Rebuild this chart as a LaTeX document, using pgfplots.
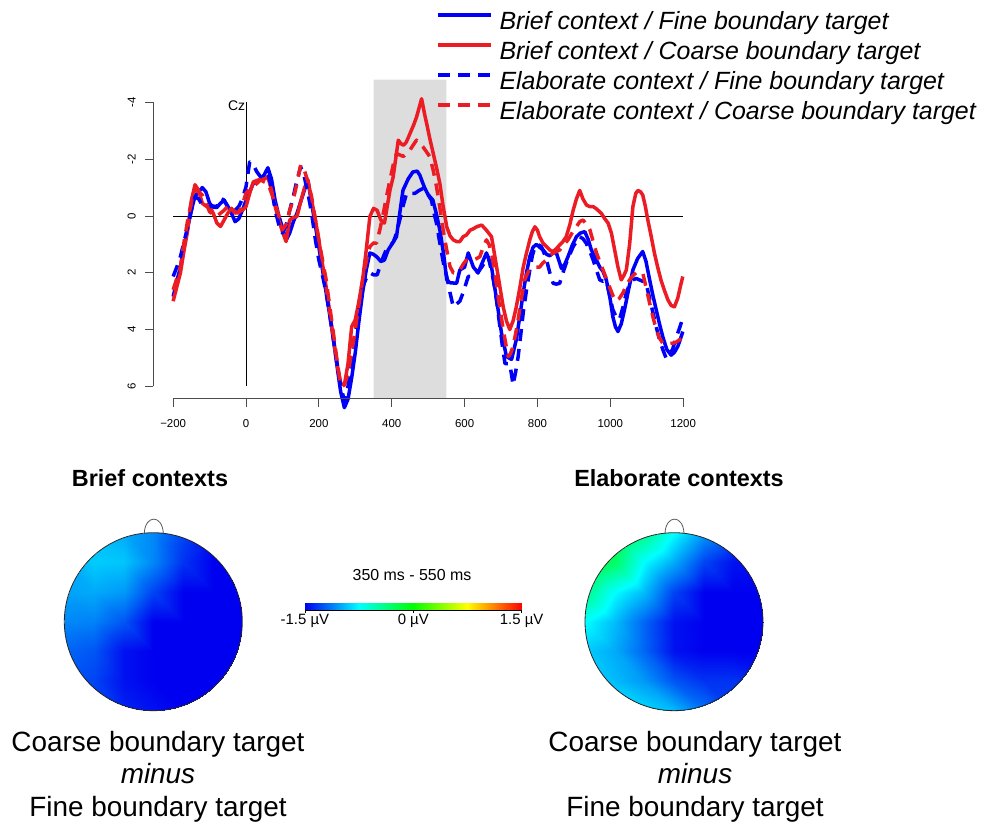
\documentclass[border=0pt]{standalone}
\usepackage{fontspec}
\setmainfont{Liberation Sans}
\usepackage{pgfplots}
\pgfplotsset{compat=1.18}
\definecolor{eblue}{RGB}{0,0,250}
\definecolor{ered}{RGB}{236,28,36}
\definecolor{shadec}{RGB}{221,221,221}
\pgfplotsset{colormap={topo}{rgb255=(0,0,240) rgb255=(0,255,255) rgb255=(0,255,0) rgb255=(255,255,0) rgb255=(255,0,0)}}
\pgfplotsset{erp/.style={line width=3.5bp, line join=round}, dsh/.style={dash pattern=on 12bp off 8bp}}
\begin{document}
\begin{tikzpicture}
\path[use as bounding box] (0,0) rectangle (985bp,828bp);
% ---------------- ERP panel ----------------
\begin{axis}[
  at={(419.05bp,589bp)}, anchor=center, scale only axis,
  width=535.5bp, height=318.6bp,
  xmin=-260, xmax=1210, ymin=-4.8, ymax=6.42, y dir=reverse,
  axis lines=none, clip=false,
  legend style={at={(axis cs:521,-7.22)}, anchor=north west, draw=none, fill=none, inner sep=0pt,
     row sep=6bp, font=\fontsize{25}{30}\selectfont\itshape, legend cell align=left,
     nodes={inner sep=0pt, text height=18bp, text depth=6bp},
     /tikz/every odd column/.append style={column sep=7bp}},
  legend image code/.code={\draw[#1] (0bp,8bp) -- (53bp,8bp);},
]
\addplot[forget plot, fill=shadec, draw=none] coordinates {(350,-4.8) (550,-4.8) (550,6.42) (350,6.42) (350,-4.8)};
\addplot[forget plot, black, line width=0.9bp] coordinates {(-200,0) (1200,0)};
\addplot[forget plot, black, line width=0.9bp] coordinates {(0,-4) (0,6)};
% Brief / Fine
\addplot[erp, eblue] table {
-200 2.84
-190 2.3
-180 1.8
-170 1.1
-160 0.4
-150 -0.2
-140 -0.7
-130 -0.85
-120 -1.0
-110 -0.85
-100 -0.45
-90 -0.3
-80 -0.3
-70 -0.45
-60 -0.55
-50 -0.35
-40 -0.1
-30 0.2
-20 0.1
-10 -0.2
0 -0.55
10 -0.85
20 -1.15
30 -1.2
40 -1.3
50 -1.45
60 -1.7
70 -1.3
80 -0.55
90 0.0
100 0.4
110 0.85
120 0.6
130 0.2
140 -0.1
150 -0.5
160 -0.9
170 -1.25
180 -0.45
190 0.3
200 1.1
210 1.9
220 2.7
230 3.5
240 4.35
250 5.3
260 6.2
270 6.75
280 6.45
290 5.7
300 4.8
310 3.7
320 2.7
330 1.9
340 1.3
350 1.35
360 1.45
370 1.6
380 1.55
390 1.2
400 1.0
413 0.73
422 -0.1
431 -0.91
445 -1.3
458 -1.55
470 -1.58
477 -1.44
490 -1.0
500 -0.75
513 -0.56
522 -0.1
532 0.49
542 1.3
551 2.24
560 2.35
569 2.36
578 2.37
587 1.9
600 1.8
610 1.3
624 1.8
637 2.0
650 1.6
660 1.3
674 1.8
688 2.95
701 4.1
715 4.95
729 5.05
742 4.35
752 3.5
761 2.7
770 2.0
779 1.43
788 1.1
797 1.0
806 1.1
816 1.2
825 1.35
834 1.4
843 1.3
852 1.3
866 1.85
875 1.7
884 1.43
895 1.05
907 0.73
918 0.6
930 0.55
940 0.85
948 1.2
960 1.5
971 1.8
980 1.95
989 2.25
998 2.8
1007 3.55
1014 3.9
1021 4.07
1030 3.8
1039 3.3
1050 2.6
1062 1.9
1075 1.5
1089 1.25
1098 1.6
1108 2.25
1117 2.8
1126 3.3
1135 3.8
1144 4.25
1155 4.7
1167 4.9
1176 4.8
1185 4.6
1192 4.35
1199 4.07
};
\addlegendentry{Brief context / Fine boundary target}
% Brief / Coarse
\addplot[erp, ered] table {
-200 3.0
-190 2.5
-180 2.0
-170 1.2
-160 0.5
-150 -0.55
-140 -1.1
-130 -0.9
-120 -0.45
-110 -0.35
-100 -0.33
-90 -0.1
-80 0.25
-70 0.37
-60 0.14
-50 -0.1
-40 -0.27
-30 -0.1
-20 -0.15
-10 -0.2
0 -0.33
10 -0.8
20 -1.2
30 -1.25
40 -1.3
50 -1.3
60 -1.38
70 -0.9
80 -0.33
90 0.15
100 0.55
110 0.9
120 0.14
130 0.05
140 0.02
150 -0.5
160 -0.97
170 -1.27
180 -0.56
190 0.1
200 0.85
210 1.7
220 2.5
230 3.4
240 4.35
250 5.2
260 5.9
270 5.95
280 5.2
290 3.9
300 3.65
310 3.0
320 2.25
330 1.2
340 0.02
350 -0.27
360 -0.2
370 0.14
380 0.25
386 -0.21
395 -0.9
404 -1.38
418 -2.67
425 -2.55
432 -2.49
440 -2.6
450 -2.9
460 -3.2
468 -3.48
482 -4.13
490 -3.6
496 -3.25
505 -2.7
514 -2.2
523 -1.7
532 -1.15
541 -0.35
551 0.38
560 0.7
569 0.84
578 0.9
587 0.9
596 0.73
605 0.67
615 0.5
624 0.45
633 0.38
647 0.32
660 0.5
674 0.73
688 1.8
697 2.5
706 3.2
715 3.7
724 4.0
733 3.7
742 3.2
752 2.5
761 1.8
770 1.3
779 0.84
786 0.55
793 0.38
800 0.5
806 0.73
815 0.95
825 1.08
834 1.2
843 1.25
852 1.15
861 1.02
870 0.9
879 0.73
889 0.3
898 -0.2
907 -0.6
916 -0.9
925 -0.6
935 -0.38
944 -0.33
953 -0.33
962 -0.25
975 -0.1
985 0.1
994 0.25
1003 0.6
1012 1.2
1021 1.8
1030 2.25
1037 2.1
1044 1.9
1053 1.0
1062 -0.33
1070 -0.8
1076 -0.9
1083 -0.85
1089 -0.74
1096 -0.35
1103 0.14
1112 0.7
1121 1.3
1130 1.8
1139 2.25
1148 2.6
1158 2.95
1167 3.15
1176 3.2
1185 2.9
1192 2.5
1199 2.13
};
\addlegendentry{Brief context / Coarse boundary target}
% Elaborate / Fine
\addplot[erp, dsh, eblue] table {
-200 2.13
-190 1.8
-180 1.43
-170 0.9
-160 0.38
-150 -0.2
-140 -0.68
-130 -0.6
-120 -0.38
-110 -0.3
-100 -0.33
-90 -0.35
-80 -0.33
-70 -0.62
-60 -0.56
-50 -0.3
-40 -0.15
-30 -0.2
-20 -0.33
-10 -0.6
0 -1.03
10 -1.9
20 -1.8
30 -1.55
40 -1.38
50 -1.4
60 -1.5
70 -1.0
80 -0.2
90 0.3
100 0.6
110 0.35
120 -0.2
130 -0.7
140 -1.27
150 -1.73
160 -1.38
170 -0.8
180 -0.1
190 0.8
200 1.55
210 2.1
220 2.7
230 3.5
240 4.35
250 5.2
260 6.0
270 6.5
280 6.0
290 5.1
300 4.13
310 3.3
320 2.5
330 2.2
340 2.0
350 2.07
360 2.07
370 1.7
377 1.43
386 1.15
395 1.08
405 0.9
413 0.6
422 0.14
432 -0.4
441 -0.8
450 -0.8
464 -0.8
475 -0.9
486 -0.97
497 -0.8
509 -0.56
516 -0.1
523 0.26
530 0.8
537 1.31
544 1.8
551 2.13
560 2.7
569 3.2
578 3.1
587 3.0
596 2.7
610 2.13
628 2.13
647 1.8
665 1.43
679 2.25
688 3.0
697 3.9
704 4.6
711 5.2
718 5.2
724 5.2
729 5.6
733 5.95
740 5.5
747 4.95
754 4.2
761 3.4
770 2.6
779 1.9
786 1.4
793 1.08
802 1.0
811 1.08
818 1.3
825 1.55
834 2.0
843 2.37
852 2.4
861 2.37
870 2.0
879 1.66
889 1.35
898 1.08
907 0.9
916 0.73
925 0.8
934 0.96
944 1.25
953 1.55
962 1.9
971 2.25
980 2.3
989 2.25
998 2.8
1007 3.3
1016 3.55
1025 3.65
1035 3.2
1044 2.7
1053 2.4
1062 2.25
1071 2.2
1080 2.25
1089 2.3
1098 2.37
1108 2.9
1117 3.4
1126 3.9
1135 4.35
1144 4.7
1153 5.0
1162 4.85
1171 4.7
1180 4.3
1190 3.95
1199 3.6
};
\addlegendentry{Elaborate context / Fine boundary target}
% Elaborate / Coarse
\addplot[erp, dsh, ered] table {
-200 2.6
-190 2.2
-180 1.8
-170 0.9
-160 0.14
-150 -0.5
-140 -0.9
-130 -0.85
-120 -0.74
-110 -0.45
-100 -0.15
-90 -0.05
-80 0.02
-70 -0.1
-60 -0.2
-50 -0.35
-40 -0.27
-30 -0.15
-20 -0.1
-10 -0.4
0 -0.8
10 -0.95
20 -1.03
30 -1.15
40 -1.27
50 -1.2
60 -1.15
70 -0.8
80 -0.45
90 0.0
100 0.49
110 0.3
120 -0.2
130 -0.6
140 -1.15
150 -1.8
160 -1.62
170 -1.2
180 -0.68
190 0.1
200 0.85
210 1.55
220 2.25
230 3.2
240 4.13
250 5.1
260 6.0
270 5.95
280 5.55
290 4.8
300 4.0
310 3.1
320 2.25
330 1.6
340 1.08
350 0.95
358 0.96
368 0.45
377 -0.1
386 -0.7
395 -1.26
404 -1.8
413 -2.2
422 -2.15
432 -2.1
441 -2.2
450 -2.32
459 -2.5
468 -2.67
477 -2.55
486 -2.43
496 -2.25
505 -2.08
514 -1.6
523 -1.03
532 -0.3
541 0.49
551 1.2
560 1.78
569 2.0
578 2.0
587 1.9
596 1.7
605 1.55
615 1.55
624 1.55
633 1.5
642 1.43
651 1.1
660 0.84
667 1.0
674 1.3
683 2.0
692 2.84
699 3.4
706 4.0
713 4.5
720 4.95
726 4.85
733 4.6
740 4.15
747 3.65
756 2.9
765 2.25
775 1.95
788 1.8
797 1.8
806 1.8
815 1.65
825 1.55
834 1.4
843 1.3
852 1.25
861 1.2
870 1.05
884 0.84
895 0.6
907 0.38
916 0.2
925 0.14
935 0.3
944 0.49
953 0.9
962 1.3
971 1.6
980 1.9
989 2.2
998 2.5
1007 2.8
1016 3.0
1025 2.9
1035 2.7
1044 2.45
1053 2.25
1062 2.1
1071 2.0
1080 2.0
1089 2.0
1098 2.5
1108 3.07
1117 3.55
1126 4.0
1135 4.3
1144 4.48
1158 4.5
1171 4.48
1180 4.45
1190 4.36
1199 4.3
};
\addlegendentry{Elaborate context / Coarse boundary target}
% R-style axes
\draw[black!70, line width=0.9bp] (axis cs:-200,6.42) -- (axis cs:1200,6.42);
\draw[black!70, line width=0.9bp] (axis cs:-200,6.42) -- (axis cs:-200,6.71);
\draw[black!70, line width=0.9bp] (axis cs:0,6.42) -- (axis cs:0,6.71);
\draw[black!70, line width=0.9bp] (axis cs:200,6.42) -- (axis cs:200,6.71);
\draw[black!70, line width=0.9bp] (axis cs:400,6.42) -- (axis cs:400,6.71);
\draw[black!70, line width=0.9bp] (axis cs:600,6.42) -- (axis cs:600,6.71);
\draw[black!70, line width=0.9bp] (axis cs:800,6.42) -- (axis cs:800,6.71);
\draw[black!70, line width=0.9bp] (axis cs:1000,6.42) -- (axis cs:1000,6.71);
\draw[black!70, line width=0.9bp] (axis cs:1200,6.42) -- (axis cs:1200,6.71);
\node[font=\fontsize{11.5}{13}\selectfont] at (axis cs:-200,7.3) {−200};
\node[font=\fontsize{11.5}{13}\selectfont] at (axis cs:0,7.3) {0};
\node[font=\fontsize{11.5}{13}\selectfont] at (axis cs:200,7.3) {200};
\node[font=\fontsize{11.5}{13}\selectfont] at (axis cs:400,7.3) {400};
\node[font=\fontsize{11.5}{13}\selectfont] at (axis cs:600,7.3) {600};
\node[font=\fontsize{11.5}{13}\selectfont] at (axis cs:800,7.3) {800};
\node[font=\fontsize{11.5}{13}\selectfont] at (axis cs:1000,7.3) {1000};
\node[font=\fontsize{11.5}{13}\selectfont] at (axis cs:1200,7.3) {1200};
\draw[black!70, line width=0.9bp] (axis cs:-254.5,-4) -- (axis cs:-254.5,6);
\draw[black!70, line width=0.9bp] (axis cs:-254.5,-4) -- (axis cs:-277.3,-4);
\draw[black!70, line width=0.9bp] (axis cs:-254.5,-2) -- (axis cs:-277.3,-2);
\draw[black!70, line width=0.9bp] (axis cs:-254.5,0) -- (axis cs:-277.3,0);
\draw[black!70, line width=0.9bp] (axis cs:-254.5,2) -- (axis cs:-277.3,2);
\draw[black!70, line width=0.9bp] (axis cs:-254.5,4) -- (axis cs:-277.3,4);
\draw[black!70, line width=0.9bp] (axis cs:-254.5,6) -- (axis cs:-277.3,6);
\node[rotate=90, font=\fontsize{11.5}{13}\selectfont] at (axis cs:-313.8,-4) {-4};
\node[rotate=90, font=\fontsize{11.5}{13}\selectfont] at (axis cs:-313.8,-2) {-2};
\node[rotate=90, font=\fontsize{11.5}{13}\selectfont] at (axis cs:-313.8,0) {0};
\node[rotate=90, font=\fontsize{11.5}{13}\selectfont] at (axis cs:-313.8,2) {2};
\node[rotate=90, font=\fontsize{11.5}{13}\selectfont] at (axis cs:-313.8,4) {4};
\node[rotate=90, font=\fontsize{11.5}{13}\selectfont] at (axis cs:-313.8,6) {6};
\node[anchor=north east, inner sep=0pt, font=\fontsize{14}{16}\selectfont] at (axis cs:-2,-4.06) {Cz};
\end{axis}
% ---------------- Left topomap ----------------
\begin{axis}[at={(153.3bp,206.3bp)}, anchor=center, scale only axis, width=178bp, height=178bp,
  xmin=-1, xmax=1, ymin=-1, ymax=1, hide axis, colormap name=topo,
  point meta min=-1.5, point meta max=1.5]
\clip (axis cs:0,0) circle [radius=1];
\addplot[surf, shader=interp, mesh/rows=7, mesh/cols=7, point meta=explicit] table[meta=c] {
x y c
-1 -1 -1.3
-0.667 -1 -1.35
-0.333 -1 -1.4
0 -1 -1.45
0.333 -1 -1.5
0.667 -1 -1.5
1 -1 -1.5
-1 -0.667 -1.25
-0.667 -0.667 -1.3
-0.333 -0.667 -1.45
0 -0.667 -1.55
0.333 -0.667 -1.6
0.667 -0.667 -1.55
1 -0.667 -1.5
-1 -0.333 -1.2
-0.667 -0.333 -1.25
-0.333 -0.333 -1.45
0 -0.333 -1.6
0.333 -0.333 -1.6
0.667 -0.333 -1.6
1 -0.333 -1.55
-1 0 -1.1
-0.667 0 -1.12
-0.333 0 -1.25
0 0 -1.5
0.333 0 -1.6
0.667 0 -1.6
1 0 -1.55
-1 0.333 -1.02
-0.667 0.333 -1.0
-0.333 0.333 -1.05
0 0.333 -1.3
0.333 0.333 -1.5
0.667 0.333 -1.55
1 0.333 -1.55
-1 0.667 -1.0
-0.667 0.667 -0.9
-0.333 0.667 -0.92
0 0.667 -1.1
0.333 0.667 -1.35
0.667 0.667 -1.5
1 0.667 -1.5
-1 1 -1.0
-0.667 1 -0.95
-0.333 1 -1.0
0 1 -1.1
0.333 1 -1.3
0.667 1 -1.5
1 1 -1.5
};
\end{axis}
\draw[black!85, line width=0.8bp] (153.3bp,206.3bp) circle [radius=89bp];
\draw[black!65, line width=0.8bp] (144.3bp,295.0bp) .. controls (145.3bp,313.5bp) and (162.3bp,313.5bp) .. (163.3bp,295.0bp);
% ---------------- Right topomap ----------------
\begin{axis}[at={(674bp,206.3bp)}, anchor=center, scale only axis, width=178bp, height=178bp,
  xmin=-1, xmax=1, ymin=-1, ymax=1, hide axis, colormap name=topo,
  point meta min=-1.5, point meta max=1.5]
\clip (axis cs:0,0) circle [radius=1];
\addplot[surf, shader=interp, mesh/rows=7, mesh/cols=7, point meta=explicit] table[meta=c] {
x y c
-1 -1 -0.75
-0.667 -1 -0.8
-0.333 -1 -0.85
0 -1 -0.95
0.333 -1 -1.15
0.667 -1 -1.3
1 -1 -1.35
-1 -0.667 -0.85
-0.667 -0.667 -0.95
-0.333 -0.667 -1.05
0 -0.667 -1.25
0.333 -0.667 -1.35
0.667 -0.667 -1.35
1 -0.667 -1.4
-1 -0.333 -0.9
-0.667 -0.333 -1.0
-0.333 -0.333 -1.2
0 -0.333 -1.45
0.333 -0.333 -1.6
0.667 -0.333 -1.55
1 -0.333 -1.5
-1 0 -0.75
-0.667 0 -0.95
-0.333 0 -1.2
0 0 -1.45
0.333 0 -1.6
0.667 0 -1.6
1 0 -1.55
-1 0.333 -0.4
-0.667 0.333 -0.75
-0.333 0.333 -0.95
0 0.333 -1.3
0.333 0.333 -1.5
0.667 0.333 -1.55
1 0.333 -1.55
-1 0.667 -0.1
-0.667 0.667 -0.3
-0.333 0.667 -0.75
0 0.667 -1.0
0.333 0.667 -1.3
0.667 0.667 -1.45
1 0.667 -1.5
-1 1 0.0
-0.667 1 -0.15
-0.333 1 -0.4
0 1 -0.75
0.333 1 -1.05
0.667 1 -1.3
1 1 -1.4
};
\end{axis}
\draw[black!85, line width=0.8bp] (674bp,206.3bp) circle [radius=89bp];
\draw[black!65, line width=0.8bp] (665bp,295.0bp) .. controls (666bp,313.5bp) and (683bp,313.5bp) .. (684bp,295.0bp);
% ---------------- Colour bar ----------------
\begin{axis}[at={(413.3bp,221.7bp)}, anchor=center, scale only axis, width=216.7bp, height=7.3bp,
  xmin=-1.5, xmax=1.5, ymin=0, ymax=1, axis x line*=bottom, axis y line=none,
  axis line style={-, black, line width=0.7bp},
  xtick={-1.5,0,1.5}, xticklabels={-1.5 µV, 0 µV, 1.5 µV},
  tick align=outside, major tick length=3bp, xtick style={black, line width=0.7bp},
  xticklabel style={font=\fontsize{15}{18}\selectfont, inner sep=1bp},
  colormap name=topo, point meta min=-1.5, point meta max=1.5]
\addplot[surf, shader=interp, mesh/rows=2, mesh/cols=5, point meta=x] table {
x y
-1.5 0
-0.75 0
0 0
0.75 0
1.5 0
-1.5 1
-0.75 1
0 1
0.75 1
1.5 1
};
\end{axis}
% ---------------- Texts ----------------
\node[anchor=base, font=\fontsize{16}{19}\selectfont] at (412bp,247.2bp) {350 ms - 550 ms};
\node[anchor=base, font=\fontsize{23.5}{28}\selectfont\bfseries] at (150bp,341.6bp) {Brief contexts};
\node[anchor=base, font=\fontsize{23.5}{28}\selectfont\bfseries] at (679bp,341.6bp) {Elaborate contexts};
\node[anchor=base, font=\fontsize{28}{32}\selectfont] at (158bp,76.3bp) {Coarse boundary target};
\node[anchor=base, font=\fontsize{28}{32}\selectfont\itshape] at (158bp,44.7bp) {minus};
\node[anchor=base, font=\fontsize{28}{32}\selectfont] at (158bp,11.3bp) {Fine boundary target};
\node[anchor=base, font=\fontsize{28}{32}\selectfont] at (695bp,76.3bp) {Coarse boundary target};
\node[anchor=base, font=\fontsize{28}{32}\selectfont\itshape] at (695bp,44.7bp) {minus};
\node[anchor=base, font=\fontsize{28}{32}\selectfont] at (695bp,11.3bp) {Fine boundary target};
\end{tikzpicture}
\end{document}
